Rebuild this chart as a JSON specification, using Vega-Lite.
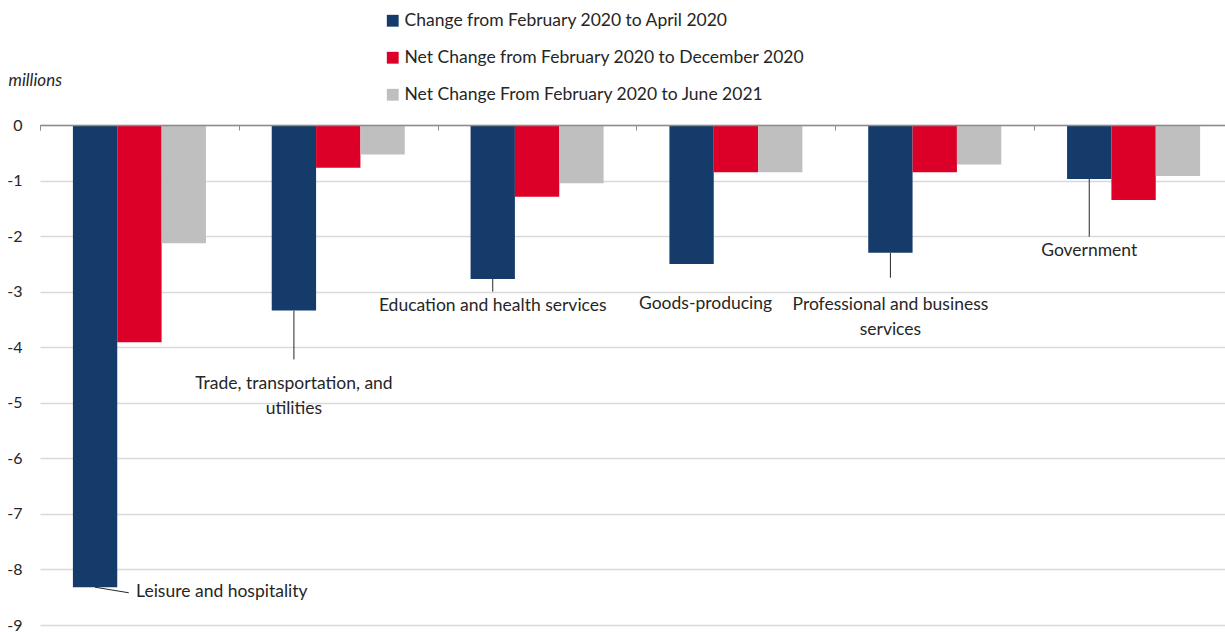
{
  "$schema": "https://vega.github.io/schema/vega-lite/v6.json",
  "width": 1193,
  "height": 500,
  "autosize": "none",
  "padding": {"left": 40, "top": 125, "right": 0, "bottom": 7},
  "background": "white",
  "config": {
    "font": "Lato",
    "view": {"stroke": null},
    "text": {"font": "Lato"}
  },
  "datasets": {
    "bars": [
      {"category": "Leisure and hospitality", "series": "Change from February 2020 to April 2020", "value": -8.32},
      {"category": "Leisure and hospitality", "series": "Net Change from February 2020 to December 2020", "value": -3.91},
      {"category": "Leisure and hospitality", "series": "Net Change From February 2020 to June 2021", "value": -2.13},
      {"category": "Trade, transportation, and utilities", "series": "Change from February 2020 to April 2020", "value": -3.34},
      {"category": "Trade, transportation, and utilities", "series": "Net Change from February 2020 to December 2020", "value": -0.77},
      {"category": "Trade, transportation, and utilities", "series": "Net Change From February 2020 to June 2021", "value": -0.53},
      {"category": "Education and health services", "series": "Change from February 2020 to April 2020", "value": -2.77},
      {"category": "Education and health services", "series": "Net Change from February 2020 to December 2020", "value": -1.29},
      {"category": "Education and health services", "series": "Net Change From February 2020 to June 2021", "value": -1.05},
      {"category": "Goods-producing", "series": "Change from February 2020 to April 2020", "value": -2.5},
      {"category": "Goods-producing", "series": "Net Change from February 2020 to December 2020", "value": -0.85},
      {"category": "Goods-producing", "series": "Net Change From February 2020 to June 2021", "value": -0.85},
      {"category": "Professional and business services", "series": "Change from February 2020 to April 2020", "value": -2.3},
      {"category": "Professional and business services", "series": "Net Change from February 2020 to December 2020", "value": -0.85},
      {"category": "Professional and business services", "series": "Net Change From February 2020 to June 2021", "value": -0.71},
      {"category": "Government", "series": "Change from February 2020 to April 2020", "value": -0.97},
      {"category": "Government", "series": "Net Change from February 2020 to December 2020", "value": -1.35},
      {"category": "Government", "series": "Net Change From February 2020 to June 2021", "value": -0.92}
    ],
    "labels": [
      {"category": "Trade, transportation, and utilities", "series": "Change from February 2020 to April 2020", "label": "Trade, transportation, and\nutilities", "ly": -4.67, "lt": -3.34, "lb": -4.22},
      {"category": "Education and health services", "series": "Change from February 2020 to April 2020", "label": "Education and health services", "ly": -3.25, "lt": -2.77, "lb": -3.0},
      {"category": "Professional and business services", "series": "Change from February 2020 to April 2020", "label": "Professional and business\nservices", "ly": -3.24, "lt": -2.3, "lb": -2.75},
      {"category": "Government", "series": "Change from February 2020 to April 2020", "label": "Government", "ly": -2.26, "lt": -0.97, "lb": -2.01}
    ],
    "goods": [
      {"category": "Goods-producing", "series": "Change from February 2020 to April 2020", "label": "Goods-producing", "ly": -3.22}
    ],
    "leisure": [
      {"category": "Leisure and hospitality", "series": "Change from February 2020 to April 2020", "label": "Leisure and hospitality", "ly": -8.41, "lt": -8.32, "lb": -8.42}
    ]
  },
  "encoding": {
    "x": {
      "field": "category",
      "type": "nominal",
      "sort": ["Leisure and hospitality", "Trade, transportation, and utilities", "Education and health services", "Goods-producing", "Professional and business services", "Government"],
      "scale": {"paddingInner": 0.331, "paddingOuter": 0.1655},
      "axis": {
        "orient": "top",
        "title": null,
        "labels": false,
        "domainColor": "#8c8c8c",
        "domainWidth": 1.5,
        "ticks": true,
        "bandPosition": 0,
        "tickOffset": -33,
        "tickExtra": true,
        "tickSize": -5,
        "tickColor": "#8c8c8c",
        "zindex": 1
      }
    },
    "xOffset": {
      "field": "series",
      "type": "nominal",
      "sort": ["Change from February 2020 to April 2020", "Net Change from February 2020 to December 2020", "Net Change From February 2020 to June 2021"],
      "scale": {"paddingInner": 0, "paddingOuter": 0}
    }
  },
  "layer": [
    {
      "data": {"name": "bars"},
      "mark": {"type": "bar"},
      "encoding": {
        "y": {
          "field": "value",
          "type": "quantitative",
          "scale": {"domain": [-9, 0], "nice": false},
          "axis": {
            "title": "millions",
            "titleAngle": 0,
            "titleFont": "Lato",
            "titleFontStyle": "italic",
            "titleFontWeight": "normal",
            "titleFontSize": 17,
            "titleColor": "#262626",
            "titleAlign": "left",
            "titleBaseline": "middle",
            "titleX": -32,
            "titleY": -45,
            "values": [0, -1, -2, -3, -4, -5, -6, -7, -8, -9],
            "labelExpr": "datum.value == 0 ? '0' : '-' + abs(datum.value)",
            "domain": false,
            "ticks": false,
            "labelPadding": 18,
            "labelFontSize": 16,
            "labelColor": "#262626",
            "labelFont": "Lato",
            "grid": true,
            "gridColor": "#d9d9d9",
            "gridWidth": 1.5
          }
        },
        "color": {
          "field": "series",
          "type": "nominal",
          "sort": ["Change from February 2020 to April 2020", "Net Change from February 2020 to December 2020", "Net Change From February 2020 to June 2021"],
          "scale": {"range": ["#153b6a", "#dc0028", "#bfbfbf"]},
          "legend": {
            "title": null,
            "orient": "none",
            "legendX": 344,
            "legendY": -113,
            "direction": "vertical",
            "symbolType": "square",
            "symbolSize": 140,
            "symbolStrokeWidth": 0,
            "labelFontSize": 17.5,
            "labelFont": "Lato",
            "labelColor": "#262626",
            "labelOffset": 3,
            "rowPadding": 18,
            "labelLimit": 600
          }
        }
      }
    },
    {
      "data": {"name": "labels"},
      "mark": {"type": "rule", "color": "#262626", "strokeWidth": 1},
      "encoding": {
        "y": {"field": "lt", "type": "quantitative"},
        "y2": {"field": "lb"}
      }
    },
    {
      "data": {"name": "labels"},
      "mark": {"type": "text", "fontSize": 17.5, "color": "#262626", "align": "center", "baseline": "middle", "lineBreak": "\n", "lineHeight": 25},
      "encoding": {
        "y": {"field": "ly", "type": "quantitative"},
        "text": {"field": "label"}
      }
    },
    {
      "data": {"name": "goods"},
      "mark": {"type": "text", "fontSize": 17.5, "color": "#262626", "align": "center", "baseline": "middle", "dx": 14},
      "encoding": {
        "y": {"field": "ly", "type": "quantitative"},
        "text": {"field": "label"}
      }
    },
    {
      "data": {"name": "leisure"},
      "mark": {"type": "rule", "color": "#262626", "strokeWidth": 1},
      "encoding": {
        "y": {"field": "lt", "type": "quantitative"},
        "y2": {"field": "lb"},
        "x2": {"field": "category", "bandPosition": 0.42}
      }
    },
    {
      "data": {"name": "leisure"},
      "mark": {"type": "text", "fontSize": 17.5, "color": "#262626", "align": "left", "baseline": "middle", "dx": 41},
      "encoding": {
        "y": {"field": "ly", "type": "quantitative"},
        "text": {"field": "label"}
      }
    }
  ]
}
